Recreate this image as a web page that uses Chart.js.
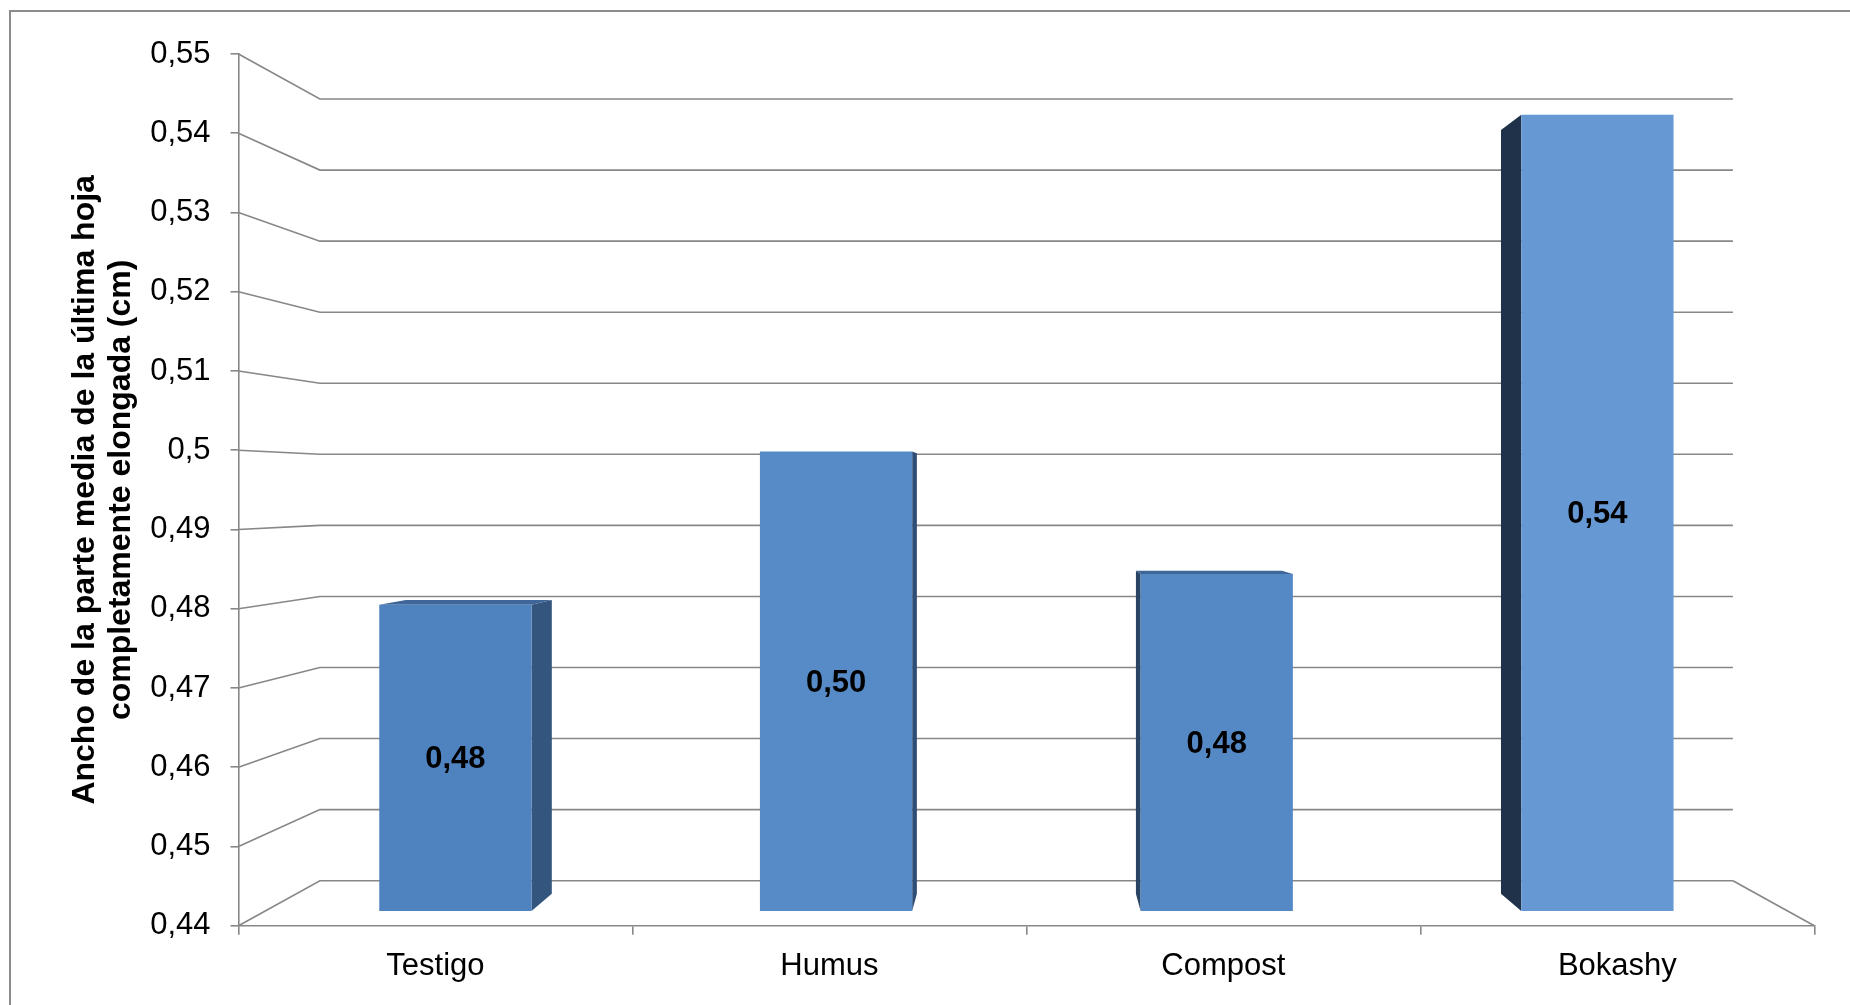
<!DOCTYPE html>
<html>
<head>
<meta charset="utf-8">
<script src="https://cdn.jsdelivr.net/npm/chart.js@4/dist/chart.umd.min.js"></script>
<style>
  html, body { margin: 0; padding: 0; background: #fff; }
  #wrap { width: 1850px; height: 1005px; }
</style>
</head>
<body>
<div id="wrap"><canvas id="c" width="1850" height="1005"></canvas></div>
<script>
// ---- data ----
const categories = ['Testigo', 'Humus', 'Compost', 'Bokashy'];
const values = [0.48, 0.50, 0.484, 0.544];
const yMin = 0.44;
const yMax = 0.55;
const yStep = 0.01;
const yTitle = ['Ancho de la parte media de la última hoja', 'completamente elongada (cm)'];

// ---- styles ----
const frontColors = ['#4f83bf', '#578bc7', '#5589c5', '#6699d4'];
const sideColors  = ['#34557d', '#2f4e76', '#2a4466', '#1f3249'];
const topColors   = ['#3e6698', '#3e6698', '#3e6797', '#3e6797'];
const gridColor = '#878787';
const FONT = "'Liberation Sans', Arial, sans-serif";

// perspective ratios (toward chart-area centre)
const BACK_WALL = 0.8967;   // back wall plane
const BAR_FRONT = 0.9663;   // bars' front face plane
const BAR_DEPTH = 0.959;    // bars' back face relative to front face

const fmtTick = v => String(Number(v.toFixed(2))).replace('.', ',');
const fmtLabel = v => v.toFixed(2).replace('.', ',');

const yC = (yMin + yMax) / 2, yHalf = (yMax - yMin) / 2 / BAR_FRONT;
const xC = (categories.length - 1) / 2, xHalf = categories.length / 2 / BAR_FRONT;

const threeD = {
  id: 'threeD',
  beforeDraw(chart) {
    const ctx = chart.ctx;
    ctx.save();
    ctx.strokeStyle = '#8c8c8c';
    ctx.lineWidth = 2;
    ctx.beginPath();
    ctx.moveTo(10, chart.height + 5);
    ctx.lineTo(10, 11);
    ctx.lineTo(chart.width + 5, 11);
    ctx.stroke();
    ctx.restore();
  },
  beforeDatasetsDraw(chart) {
    const { ctx, chartArea: a } = chart;
    const y = chart.scales.y;
    const cx = (a.left + a.right) / 2, cy = (a.top + a.bottom) / 2;
    const P = (px, py, r) => [cx + (px - cx) * r, cy + (py - cy) * r];
    ctx.save();
    ctx.strokeStyle = gridColor;
    ctx.lineWidth = 1.6;
    y.ticks.forEach(t => {
      const yf = y.getPixelForValue(t.value);
      const bl = P(a.left, yf, BACK_WALL), br = P(a.right, yf, BACK_WALL);
      ctx.beginPath();
      ctx.moveTo(a.left, yf);
      ctx.lineTo(bl[0], bl[1]);
      ctx.lineTo(br[0], br[1]);
      ctx.stroke();
    });
    const fr = P(a.right, a.bottom, BACK_WALL);
    ctx.beginPath();
    ctx.moveTo(fr[0], fr[1]);
    ctx.lineTo(a.right, a.bottom);
    ctx.stroke();

    // bar side / top faces
    const meta = chart.getDatasetMeta(0);
    meta.data.forEach((el, i) => {
      const p = el.getProps(['x', 'y', 'base', 'width'], true);
      const xl = p.x - p.width / 2, xr = p.x + p.width / 2;
      const top = Math.min(p.y, p.base), bot = Math.max(p.y, p.base);
      const Q = (px, py) => [cx + (px - cx) * BAR_DEPTH, cy + (py - cy) * BAR_DEPTH];
      const poly = (pts, col) => {
        ctx.beginPath();
        ctx.moveTo(pts[0][0], pts[0][1]);
        for (let k = 1; k < pts.length; k++) ctx.lineTo(pts[k][0], pts[k][1]);
        ctx.closePath();
        ctx.fillStyle = col;
        ctx.fill();
      };
      if (top > cy) {
        poly([[xl, top], [xr, top], Q(xr, top), Q(xl, top)], topColors[i]);
      }
      if (xr < cx) {
        poly([[xr, top], [xr, bot], Q(xr, bot), Q(xr, top)], sideColors[i]);
      } else if (xl > cx) {
        poly([[xl, top], [xl, bot], Q(xl, bot), Q(xl, top)], sideColors[i]);
      }
    });
    ctx.restore();
  },
  afterDatasetsDraw(chart) {
    const ctx = chart.ctx;
    const meta = chart.getDatasetMeta(0);
    ctx.save();
    ctx.font = 'bold 31px ' + FONT;
    ctx.fillStyle = '#000';
    ctx.textAlign = 'center';
    ctx.textBaseline = 'middle';
    meta.data.forEach((el, i) => {
      const p = el.getProps(['x', 'y', 'base'], true);
      ctx.fillText(fmtLabel(values[i]), p.x, (p.y + p.base) / 2 + 2);
    });
    ctx.restore();
  }
};

new Chart(document.getElementById('c'), {
  type: 'bar',
  data: {
    labels: categories,
    datasets: [{
      data: values.map((v, i) => ({ x: i, y: v })),
      backgroundColor: frontColors,
      borderWidth: 0,
      base: yMin,
      xAxisID: 'xb',
      yAxisID: 'yb',
      categoryPercentage: 1,
      barPercentage: 0.4
    }]
  },
  options: {
    responsive: false,
    animation: false,
    events: [],
    layout: { padding: { left: 0, top: 54, right: 35.7, bottom: 0 } },
    plugins: { legend: { display: false }, tooltip: { enabled: false } },
    scales: {
      x: {
        type: 'category',
        position: 'bottom',
        offset: true,
        grid: { offset: true, drawOnChartArea: false, drawTicks: true, tickLength: 9, color: gridColor, lineWidth: 1.6 },
        border: { display: true, color: gridColor, width: 1.6 },
        ticks: { color: '#000', font: { family: FONT, size: 31 }, padding: 13, maxRotation: 0 },
        afterFit(s) { s.height = 79.3; }
      },
      y: {
        type: 'linear',
        position: 'left',
        min: yMin,
        max: yMax,
        grid: { drawOnChartArea: false, drawTicks: true, tickLength: 8, color: gridColor, lineWidth: 1.6 },
        border: { display: true, color: gridColor, width: 1.6 },
        ticks: { stepSize: yStep, color: '#000', font: { family: FONT, size: 31 }, padding: 20,
                 callback: v => fmtTick(v) },
        title: { display: true, text: yTitle, color: '#000',
                 font: { family: FONT, size: 32, weight: 'bold', lineHeight: 1.1 },
                 padding: { top: 68, bottom: 0 } },
        afterFit(s) { s.width = 238.5; }
      },
      xb: {
        type: 'linear', display: false, offset: false, grid: { offset: false },
        min: xC - xHalf, max: xC + xHalf,
        afterBuildTicks(s) { s.ticks = categories.map((_, i) => ({ value: i })); }
      },
      yb: { type: 'linear', display: false, min: yC - yHalf, max: yC + yHalf }
    }
  },
  plugins: [threeD]
});
</script>
</body>
</html>
